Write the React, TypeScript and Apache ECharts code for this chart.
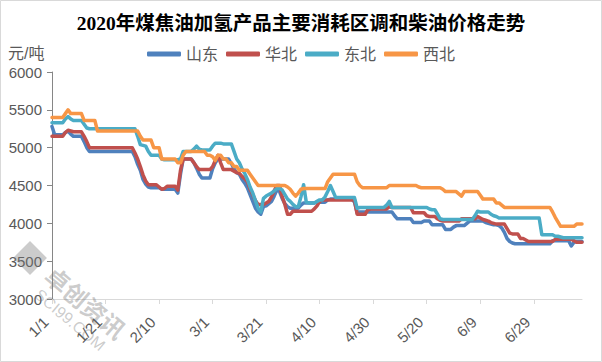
import React, { useEffect, useRef } from "react";
import * as echarts from "echarts";

const titleText = "2020年煤焦油加氢产品主要消耗区调和柴油价格走势";
const seriesNames = ["山东", "华北", "东北", "西北"];
const seriesColors = ["#4F81BD", "#C0504D", "#4BACC6", "#F79646"];
const yTicks = { min: 3000, max: 6000, interval: 500 };

// categories: every day from 1/1 to 7/17 (2020)
const categories: string[] = [];
for (let i = 0; i < 199; i++) {
  const d = new Date(2020, 0, 1 + i);
  categories.push(`${d.getMonth() + 1}/${d.getDate()}`);
}

const shandong = [
  5280,5170,5170,5170,5170,5200,5220,5180,5150,5150,
  5150,5150,5080,5000,4950,4950,4950,4950,4950,4950,
  4950,4950,4950,4950,4950,4950,4950,4950,4950,4950,
  4950,4880,4780,4700,4580,4520,4480,4470,4470,4470,
  4470,4450,4450,4450,4450,4450,4450,4400,4650,4850,
  4850,4850,4850,4800,4730,4650,4600,4600,4600,4600,
  4720,4800,4850,4850,4850,4850,4850,4790,4720,4670,
  4650,4580,4530,4470,4380,4290,4200,4150,4120,4220,
  4230,4260,4290,4360,4440,4420,4330,4260,4220,4200,
  4200,4200,4200,4240,4270,4270,4270,4270,4270,4280,
  4280,4280,4280,4310,4320,4320,4320,4320,4320,4320,
  4320,4320,4320,4280,4140,4150,4150,4150,4150,4150,
  4150,4150,4150,4150,4150,4150,4150,4150,4100,4060,
  4060,4060,4060,4060,4060,4010,4010,4010,4010,4030,
  4030,4030,3980,3980,3980,3980,3980,3920,3920,3920,
  3950,3970,3970,3970,3970,4000,4030,4030,4030,4030,
  4030,4030,4010,4000,3990,3980,3980,3970,3940,3880,
  3800,3760,3740,3730,3730,3730,3730,3730,3730,3730,
  3730,3730,3730,3730,3730,3730,3730,3770,3770,3770,
  3770,3770,3770,3770,3700,3750,3760,3760,3760,
];

const huabei = [
  5150,5150,5150,5150,5150,5200,5230,5220,5210,5210,
  5210,5210,5150,5080,5000,5000,5000,5000,5000,5000,
  5000,5000,5000,5000,5000,5000,5000,5000,5000,5000,
  5000,4930,4850,4750,4640,4560,4510,4510,4510,4510,
  4480,4450,4460,4490,4490,4490,4490,4440,4700,4850,
  4850,4850,4850,4800,4750,4710,4710,4710,4710,4710,
  4750,4830,4900,4800,4710,4710,4710,4710,4690,4670,
  4660,4620,4590,4550,4450,4380,4300,4250,4250,4250,
  4270,4290,4350,4430,4500,4500,4350,4250,4120,4120,
  4160,4160,4160,4160,4160,4160,4160,4160,4190,4230,
  4290,4310,4310,4310,4310,4310,4310,4310,4310,4310,
  4310,4310,4310,4310,4120,4120,4120,4120,4180,4190,
  4190,4190,4190,4190,4190,4190,4220,4210,4210,4210,
  4210,4210,4210,4210,4210,4140,4140,4140,4140,4140,
  4100,4090,4090,4090,4060,4040,4030,4030,4030,4030,
  4030,4030,4030,4060,4060,4060,4060,4060,4060,4090,
  4070,4050,4040,4030,4010,4000,3990,3990,3990,3990,
  3930,3870,3860,3860,3860,3800,3800,3780,3760,3760,
  3760,3760,3760,3760,3760,3760,3760,3760,3790,3790,
  3790,3790,3790,3790,3790,3770,3750,3750,3750,
];

const dongbei = [
  5330,5330,5330,5330,5330,5380,5410,5380,5360,5360,
  5360,5360,5310,5260,5250,5250,5250,5250,5250,5250,
  5250,5250,5250,5250,5250,5250,5250,5250,5250,5250,
  5250,5250,5150,5040,5030,5020,4950,4900,4900,4900,
  4900,4850,4840,4840,4840,4840,4840,4840,4850,4950,
  4950,4950,4950,4980,5020,4980,4970,4970,4970,4970,
  5020,5060,5060,5060,5050,5050,5050,5050,4950,4850,
  4800,4720,4660,4580,4480,4400,4300,4200,4150,4330,
  4360,4380,4400,4430,4460,4460,4440,4380,4320,4290,
  4250,4220,4220,4350,4510,4280,4270,4270,4270,4290,
  4310,4310,4350,4420,4500,4420,4340,4340,4340,4340,
  4340,4340,4340,4340,4200,4210,4210,4210,4210,4210,
  4210,4210,4210,4210,4210,4240,4290,4210,4210,4210,
  4210,4210,4210,4210,4210,4210,4210,4210,4210,4210,
  4210,4190,4180,4180,4120,4060,4050,4050,4050,4050,
  4050,4050,4050,4050,4050,4050,4050,4050,4100,4160,
  4150,4150,4150,4150,4120,4100,4090,4070,4070,4070,
  4070,4070,4070,4070,4070,4070,4070,4070,4070,4070,
  4070,4070,4070,3850,3850,3850,3850,3850,3830,3830,
  3820,3810,3810,3810,3810,3810,3810,3810,3810,
];

const xibei = [
  5400,5400,5400,5400,5400,5450,5500,5450,5450,5450,
  5450,5450,5360,5360,5360,5360,5360,5220,5220,5220,
  5220,5220,5220,5220,5220,5220,5220,5220,5220,5220,
  5220,5220,5220,5150,5100,5100,5100,5100,5000,5000,
  5000,4850,4850,4850,4850,4850,4850,4800,4800,4900,
  4950,4950,4950,4950,4950,4950,4950,4950,4900,4900,
  4880,4830,4900,4900,4850,4850,4800,4800,4750,4750,
  4700,4700,4700,4700,4650,4600,4550,4500,4500,4500,
  4500,4500,4500,4500,4500,4500,4500,4500,4480,4450,
  4400,4360,4400,4450,4460,4460,4460,4460,4460,4460,
  4460,4460,4460,4550,4600,4650,4650,4650,4650,4650,
  4650,4650,4650,4650,4550,4500,4470,4470,4470,4470,
  4470,4470,4470,4470,4470,4470,4500,4500,4500,4500,
  4500,4500,4500,4500,4500,4500,4500,4480,4470,4470,
  4470,4470,4470,4470,4470,4470,4450,4420,4420,4420,
  4420,4420,4390,4360,4420,4420,4420,4420,4420,4420,
  4370,4320,4320,4320,4320,4320,4270,4270,4240,4210,
  4210,4210,4210,4210,4210,4210,4210,4210,4210,4210,
  4210,4210,4210,4210,4210,4210,4210,4150,4080,4020,
  3960,3960,3960,3960,3960,3960,3990,3990,3990,
];

const seriesData = [shandong, huabei, dongbei, xibei];

const labelFont = "'Liberation Sans', 'Noto Sans CJK SC', sans-serif";
const textColor = "#595959";

export default function App() {
  const ref = useRef<HTMLDivElement>(null);
  useEffect(() => {
    document.body.style.margin = "0";
    if (!ref.current) return;
    const chart = echarts.init(ref.current, undefined, { renderer: "svg" });
    const wm = "rgba(120,120,120,0.38)";
    chart.setOption({
      animation: false,
      backgroundColor: "#ffffff",
      title: {
        text: titleText,
        left: "center",
        top: 9,
        textStyle: {
          fontFamily: "'Liberation Serif', 'Noto Sans CJK SC', serif",
          fontSize: 19.5,
          fontWeight: "bold",
          color: "#000000",
        },
      },
      legend: {
        data: seriesNames,
        left: "center",
        top: 41,
        itemWidth: 34,
        itemHeight: 5,
        itemGap: 8,
        icon: "roundRect",
        textStyle: { fontSize: 16, color: textColor, fontFamily: labelFont },
      },
      grid: { left: 52, right: 20, top: 72, bottom: 63 },
      xAxis: {
        type: "category",
        data: categories,
        boundaryGap: false,
        axisLine: { lineStyle: { color: "#D9D9D9", width: 1 } },
        axisTick: { show: true, interval: 19, length: 5, lineStyle: { color: "#D9D9D9" } },
        axisLabel: {
          interval: 19,
          rotate: 45,
          fontSize: 15,
          color: textColor,
          fontFamily: labelFont,
          margin: 14,
          padding: [0, 9, 0, 0],
        },
        splitLine: { show: false },
      },
      yAxis: {
        type: "value",
        min: yTicks.min,
        max: yTicks.max,
        interval: yTicks.interval,
        axisLine: { show: true, lineStyle: { color: "#868686", width: 1 } },
        axisTick: { show: true, length: 5, lineStyle: { color: "#868686" } },
        axisLabel: {
          fontSize: 15,
          color: textColor,
          fontFamily: labelFont,
          margin: 10,
          formatter: (v: number) => String(v),
        },
        splitLine: { show: false },
      },
      series: seriesNames.map((name, i) => ({
        name,
        type: "line",
        data: seriesData[i],
        showSymbol: false,
        symbol: "none",
        lineStyle: { color: seriesColors[i], width: 3.5, join: "round", cap: "round" },
        itemStyle: { color: seriesColors[i] },
      })),
      graphic: [
        {
          type: "rect",
          shape: { x: 0.5, y: 0.5, width: 601, height: 361 },
          style: { fill: "none", stroke: "#D9D9D9", lineWidth: 1 },
          silent: true,
        },
        {
          type: "text",
          left: 8,
          top: 45,
          style: { text: "元/吨", fontSize: 16, fill: textColor, fontFamily: labelFont },
        },
        {
          type: "rect",
          x: 30,
          y: 258,
          rotation: Math.PI / 4,
          shape: { x: -12, y: -12, width: 24, height: 24 },
          style: { fill: wm },
          z: 100,
        },
        {
          type: "text",
          x: 86,
          y: 302,
          rotation: -Math.PI / 4.5,
          style: {
            text: "卓创资讯",
            fontSize: 24,
            fontWeight: "bold",
            fill: wm,
            align: "center",
            verticalAlign: "middle",
            fontFamily: "'Noto Sans CJK SC', sans-serif",
          },
          z: 100,
        },
        {
          type: "text",
          x: 70,
          y: 320,
          rotation: -Math.PI / 4.5,
          style: {
            text: "SCI99.COM",
            fontSize: 16,
            fill: wm,
            align: "center",
            verticalAlign: "middle",
            fontFamily: labelFont,
          },
          z: 100,
        },
      ],
    });
    return () => chart.dispose();
  }, []);
  return <div ref={ref} style={{ width: 602, height: 362 }} />;
}
